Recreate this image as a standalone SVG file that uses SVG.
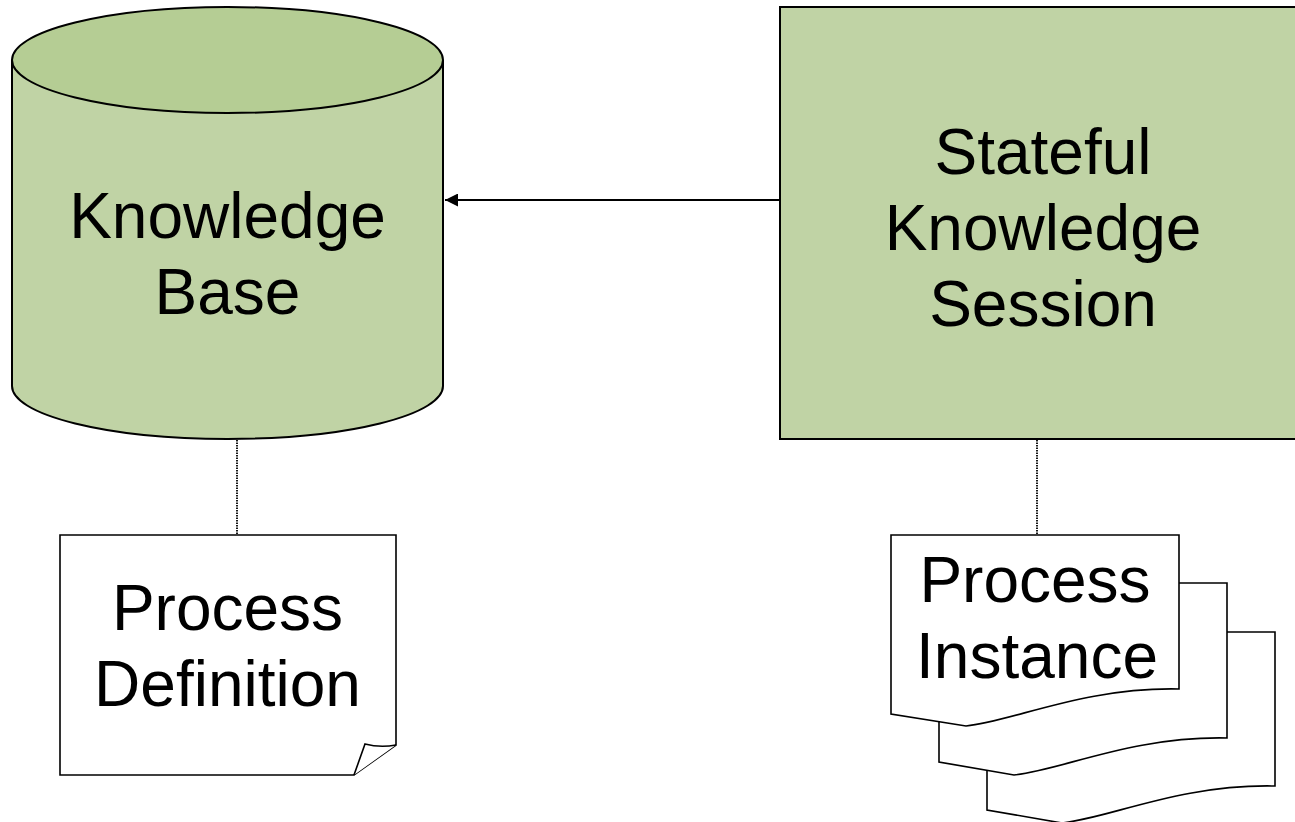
<svg xmlns="http://www.w3.org/2000/svg" width="1295" height="822" viewBox="0 0 1295 822">
<style>
.lbl{font-family:"Liberation Sans",Arial,sans-serif;font-size:64px;fill:#000;text-anchor:middle}
.doc{fill:#fff;stroke:#000;stroke-width:1.6}
.green{fill:#c0d3a5;stroke:#000;stroke-width:2}
.dot{stroke:#000;stroke-width:1.8;stroke-dasharray:1.5 1;fill:none}
</style>
<defs>
<marker id="ah" viewBox="0 0 10 10" refX="10" refY="5" markerWidth="16" markerHeight="13" markerUnits="userSpaceOnUse" orient="auto">
<path d="M0,0 L10,5 L0,10 z" fill="#000"/>
</marker>
</defs>
<rect width="1295" height="822" fill="#fff"/>
<g id="connectors">
<line x1="780" y1="200" x2="445" y2="200" stroke="#000" stroke-width="1.8" marker-end="url(#ah)"/>
<line class="dot" x1="237" y1="440" x2="237" y2="535"/>
<line class="dot" x1="1037" y1="440" x2="1037" y2="535"/>
</g>
<g id="knowledge-base">
<path class="green" d="M12,60 L12,386 A215.5,53 0 0 0 443,386 L443,60"/>
<ellipse cx="227.5" cy="60" rx="215.5" ry="53" fill="#b5cd94" stroke="#000" stroke-width="2"/>
<text class="lbl" x="227.5" y="238">Knowledge</text>
<text class="lbl" x="227.5" y="314">Base</text>
</g>
<g id="stateful-session">
<rect class="green" x="780" y="7" width="530" height="432"/>
<text class="lbl" x="1043" y="174">Stateful</text>
<text class="lbl" x="1043" y="250">Knowledge</text>
<text class="lbl" x="1043" y="326">Session</text>
</g>
<g id="process-definition">
<path class="doc" d="M60,535 L396,535 L396,745 L354,775 L60,775 Z"/>
<path class="doc" d="M354,775 L365,744 Q380,748 396,745"/>
<text class="lbl" x="227.5" y="630">Process</text>
<text class="lbl" x="227.5" y="706">Definition</text>
</g>
<g id="process-instance">
<path class="doc" d="M987,632 L1275,632 L1275,786 C1180,784 1110,818 1062,823 L987,810 Z"/>
<path class="doc" d="M939,583 L1227,583 L1227,738 C1132,736 1062,770 1014,775 L939,762 Z"/>
<path class="doc" d="M891,535 L1179,535 L1179,689 C1084,687 1014,721 966,726 L891,714 Z"/>
<text class="lbl" x="1035" y="602">Process</text>
<text class="lbl" x="1037" y="678">Instance</text>
</g>
</svg>
